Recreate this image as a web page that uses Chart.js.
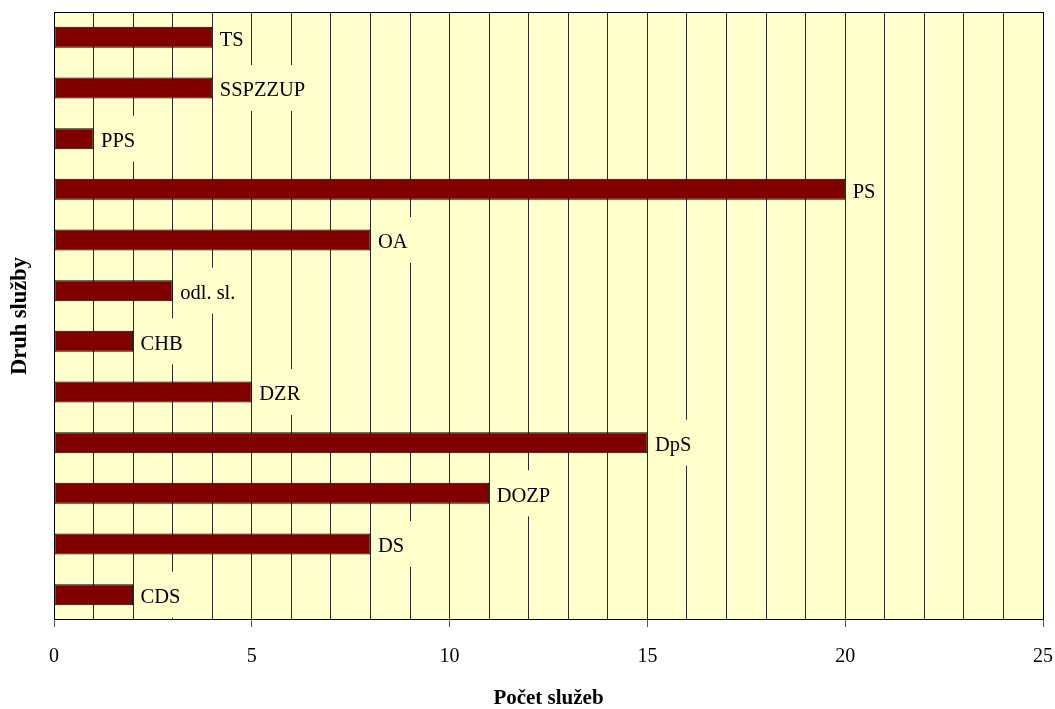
<!DOCTYPE html>
<html>
<head>
<meta charset="utf-8">
<script src="https://cdn.jsdelivr.net/npm/chart.js@4"></script>
<style>
html,body{margin:0;padding:0;background:#fff;}
#wrap{width:1055px;height:709px;position:relative;}
</style>
</head>
<body>
<div id="wrap"><canvas id="c" width="1055" height="709"></canvas></div>
<script>
const categories = ['TS','SSPZZUP','PPS','PS','OA','odl. sl.','CHB','DZR','DpS','DOZP','DS','CDS'];
const values = [4,4,1,20,8,3,2,5,15,11,8,2];
const xTickLabels = [0,5,10,15,20,25];
const xTitle = 'Počet služeb';
const yTitle = 'Druh služby';

const SERIF = '"Liberation Serif", "Times New Roman", serif';
const PLOT_BG = '#FFFFCC';

const bgPlugin = {
  id: 'plotBg',
  beforeDraw(chart) {
    const {ctx, chartArea: a} = chart;
    ctx.save();
    ctx.fillStyle = PLOT_BG;
    ctx.fillRect(a.left, a.top, a.right - a.left, a.bottom - a.top);
    ctx.restore();
  },
  afterDraw(chart) {
    const {ctx, chartArea: a} = chart;
    ctx.save();
    ctx.strokeStyle = '#000';
    ctx.lineWidth = 1;
    ctx.strokeRect(a.left + 0.5, a.top + 0.5, a.right - a.left, a.bottom - a.top - 1);
    ctx.restore();
  }
};

const labelPlugin = {
  id: 'barLabels',
  afterDatasetsDraw(chart) {
    const {ctx} = chart;
    const meta = chart.getDatasetMeta(0);
    ctx.save();
    ctx.font = '20.5px ' + SERIF;
    ctx.textBaseline = 'alphabetic';
    ctx.textAlign = 'left';
    meta.data.forEach((bar, i) => {
      const text = categories[i];
      const x = bar.x;
      const y = bar.y;
      const w = ctx.measureText(text).width;
      ctx.fillStyle = PLOT_BG;
      ctx.fillRect(x + 1, y - 23, 7.5 + w + 6, 46);
      ctx.fillStyle = '#000';
      ctx.fillText(text, x + 7.5, y + 8.3);
    });
    ctx.restore();
  }
};

new Chart(document.getElementById('c'), {
  type: 'bar',
  data: {
    labels: categories,
    datasets: [{
      data: values,
      backgroundColor: '#800000',
      borderColor: '#000',
      borderWidth: 1,
      borderSkipped: false,
      barPercentage: 0.414,
      categoryPercentage: 1
    }]
  },
  options: {
    indexAxis: 'y',
    responsive: false,
    animation: false,
    devicePixelRatio: 1,
    layout: {padding: {top: 12, right: 12, left: 0, bottom: 0}},
    plugins: {legend: {display: false}, tooltip: {enabled: false}},
    scales: {
      x: {
        type: 'linear',
        min: 0,
        max: 25,
        afterFit(s) { s.height = 89; s.paddingLeft = 0; s.paddingRight = 0; },
        ticks: {
          stepSize: 1,
          autoSkip: false,
          maxRotation: 0,
          padding: 20,
          color: '#000',
          font: {family: SERIF, size: 20, lineHeight: 1},
          callback(v) { return xTickLabels.includes(v) ? String(v) : ''; }
        },
        grid: {
          color: '#2a2a2a',
          lineWidth: 1,
          drawTicks: true,
          tickLength: 7,
          tickColor: (c) => (c.tick && xTickLabels.includes(c.tick.value)) ? '#555' : 'rgba(0,0,0,0)'
        },
        border: {display: false},
        title: {
          display: true,
          text: xTitle,
          color: '#000',
          font: {family: SERIF, size: 21, weight: 'bold', lineHeight: 1},
          padding: {top: 0, bottom: 0}
        }
      },
      y: {
        type: 'category',
        afterFit(s) { s.width = 54; s.paddingTop = 0; s.paddingBottom = 0; },
        ticks: {display: false},
        grid: {display: false},
        border: {display: false},
        title: {
          display: true,
          text: yTitle,
          color: '#000',
          font: {family: SERIF, size: 22.5, weight: 'bold', lineHeight: 1.2},
          padding: {top: 7, bottom: 0}
        }
      }
    }
  },
  plugins: [bgPlugin, labelPlugin]
});
</script>
</body>
</html>
